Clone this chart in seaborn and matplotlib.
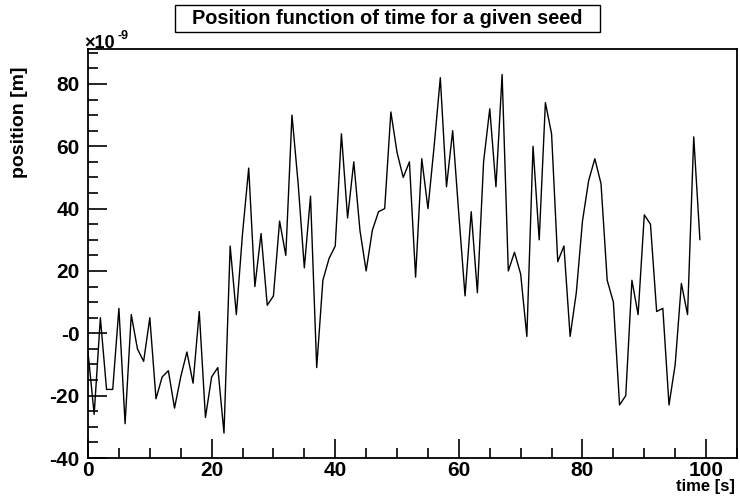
import matplotlib
matplotlib.use("Agg")
import matplotlib.pyplot as plt
from matplotlib.ticker import MultipleLocator, FixedLocator, FixedFormatter
from matplotlib.patches import Rectangle
import seaborn as sns
import pandas as pd

# ---- data (position in units of 1e-9 m) ----
time_s = list(range(100))
position_nm = [
    -6, -26, 5, -18, -18, 8, -29, 6, -5, -9,
    5, -21, -14, -12, -24, -14, -6, -16, 7, -27,
    -14, -11, -32, 28, 6, 32, 53, 15, 32, 9,
    12, 36, 25, 70, 48, 21, 44, -11, 17, 24,
    28, 64, 37, 55, 33, 20, 33, 39, 40, 71,
    58, 50, 55, 18, 56, 40, 60, 82, 47, 65,
    38, 12, 39, 13, 55, 72, 47, 83, 20, 26,
    19, -1, 60, 30, 74, 64, 23, 28, -1, 13,
    36, 49, 56, 48, 17, 10, -23, -20, 17, 6,
    38, 35, 7, 8, -23, -10, 16, 6, 63, 30,
]
y_ticks = [-40, -20, 0, 20, 40, 60, 80]
y_tick_labels = ["-40", "-20", "-0", "20", "40", "60", "80"]
x_ticks = [0, 20, 40, 60, 80, 100]
title = "Position function of time for a given seed"
x_label = "time [s]"
y_label = "position [m]"

df = pd.DataFrame({"t": time_s, "pos": position_nm})

sns.set_theme(style="ticks")
plt.rcParams["font.family"] = ["Liberation Sans", "DejaVu Sans"]
plt.rcParams["font.weight"] = "bold"
plt.rcParams["text.color"] = "black"
plt.rcParams["xtick.color"] = "black"
plt.rcParams["ytick.color"] = "black"

W, H = 740, 498
fig = plt.figure(figsize=(W / 100, H / 100), dpi=100)
fig.patch.set_facecolor("white")
ax = fig.add_axes([88 / W, (H - 458) / H, (737 - 88) / W, (458 - 49) / H])
ax.set_facecolor("white")

sns.lineplot(data=df, x="t", y="pos", ax=ax, color="black", linewidth=1.0,
             estimator=None, sort=False)

ax.set_xlim(0, 105)
ax.set_ylim(-40, 91.2)

for s in ax.spines.values():
    s.set_linewidth(1.3)
    s.set_color("black")

ax.xaxis.set_major_locator(FixedLocator(x_ticks))
ax.xaxis.set_minor_locator(MultipleLocator(5))
ax.yaxis.set_major_locator(FixedLocator(y_ticks))
ax.yaxis.set_major_formatter(FixedFormatter(y_tick_labels))
ax.yaxis.set_minor_locator(MultipleLocator(5))

ax.tick_params(which="major", direction="in", length=14, width=1.2,
               labelsize=15, colors="black", top=False, right=False)
ax.tick_params(which="minor", direction="in", length=7, width=1.2,
               top=False, right=False)
ax.tick_params(axis="y", which="major", pad=6)
ax.tick_params(axis="x", which="major", pad=2)
for lbl in ax.get_xticklabels() + ax.get_yticklabels():
    lbl.set_fontweight("bold")
    lbl.set_color("black")

ax.set_xlabel("")
ax.set_ylabel("")

fig.text(735 / W, 1 - 486 / H, x_label, ha="right", va="center",
         fontsize=12, fontweight="bold", color="black")
fig.text(20 / W, 1 - 66 / H, y_label, ha="center", va="top", rotation=90,
         fontsize=14, fontweight="bold", color="black")

# exponent label
fig.text(84 / W, 1 - 48 / H, "\u00d710", ha="left", va="baseline",
         fontsize=13, fontweight="bold", color="black")
fig.text(117 / W, 1 - 39 / H, "-9", ha="left", va="baseline",
         fontsize=9, fontweight="bold", color="black")

# title box
fig.patches.append(Rectangle((175 / W, 1 - 32 / H), (600 - 175) / W, 27 / H,
                             transform=fig.transFigure, facecolor="white",
                             edgecolor="black", linewidth=1.0))
fig.text(387 / W, 1 - 18.5 / H, title, ha="center", va="center",
         fontsize=14.3, fontweight="bold", color="black")

fig.savefig("out.png", dpi=100, facecolor="white")
